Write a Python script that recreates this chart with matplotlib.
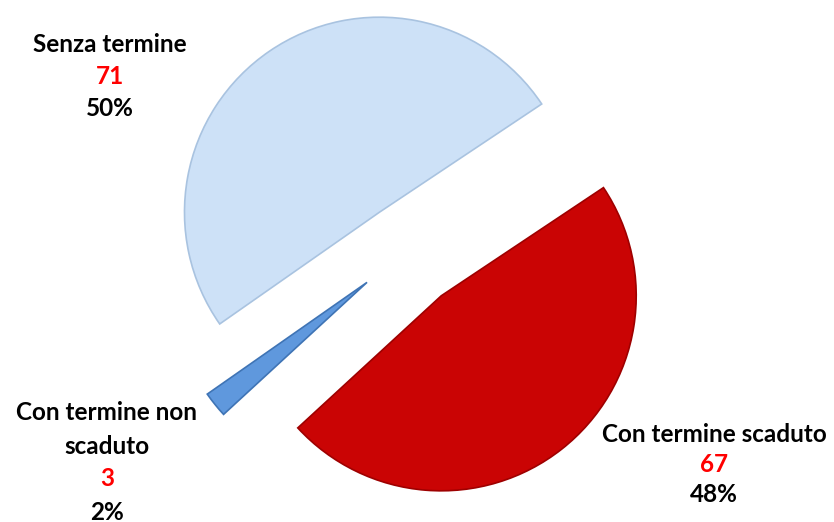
import matplotlib
matplotlib.use('Agg')
import matplotlib.pyplot as plt

# data
labels = ['Senza termine', 'Con termine non\nscaduto', 'Con termine scaduto']
values = [71, 3, 67]
colors = ['#CDE1F7', '#5F98DD', '#CA0404']
edges = ['#A9C3E0', '#3F74B5', '#9E0000']

total = sum(values)
perc = [round(v * 100.0 / total) for v in values]

fig = plt.figure(figsize=(8.34, 5.22), dpi=100)
ax = fig.add_axes([0, 0, 1, 1])

# pie in pixel-like coords (y up), explode offsets in same units
wedges, _ = ax.pie(values, colors=colors, startangle=33.7, counterclock=True,
                   radius=195, center=(406, 271), explode=[47, 50, 57],
                   frame=True, wedgeprops=dict(linewidth=1.2))
for w, ec in zip(wedges, edges):
    w.set_edgecolor(ec)
ax.set_xlim(0, 834)
ax.set_ylim(0, 522)
ax.set_aspect('equal')
ax.axis('off')

# labels: name, value in red, percent (top line y, step)
lab_pos = [(110, 477, 32), (107, 109, 33), (714, 87, 30)]
font = ['Lato', 'DejaVu Sans']
fs = 17.5
for (x, y, step), name, v, p in zip(lab_pos, labels, values, perc):
    lines = name.split('\n') + [str(v), '%d%%' % p]
    cols = ['black'] * (len(lines) - 2) + ['#FF0000', 'black']
    for i, (s, c) in enumerate(zip(lines, cols)):
        ax.text(x, y - i * step, s, ha='center', va='center', fontsize=fs,
                fontweight='bold', color=c, family=font)

fig.savefig('out.png', dpi=100)
